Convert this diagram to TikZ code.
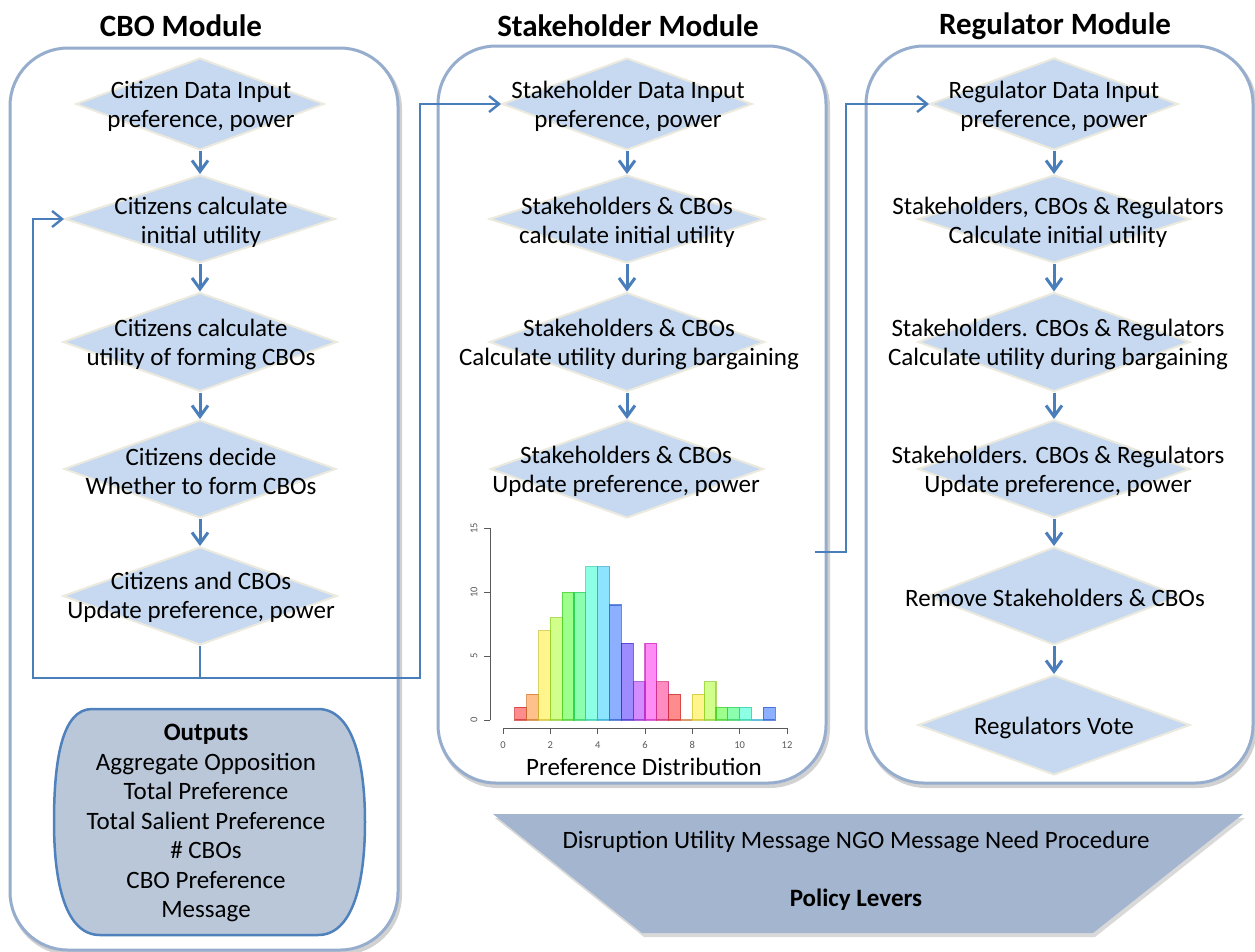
\documentclass[tikz,border=0pt]{standalone}
\usepackage{fontspec}
\setmainfont{Carlito}
\usetikzlibrary{shapes.geometric,arrows.meta}
\definecolor{diafill}{RGB}{198,217,240}
\definecolor{diaborder}{RGB}{236,234,222}
\definecolor{arrowblue}{RGB}{74,126,187}
\definecolor{framecol}{RGB}{150,173,205}
\definecolor{outfill}{RGB}{185,199,217}
\definecolor{outborder}{RGB}{79,129,189}
\definecolor{polfill}{RGB}{163,181,207}
\definecolor{axisgray}{RGB}{90,90,90}
\begin{document}
\begin{tikzpicture}[x=1pt,y=-1pt,
  dia/.style={diamond, draw=diaborder, line width=2pt, fill=diafill, inner sep=0pt},
  dtext/.style={font=\fontsize{25}{29}\selectfont, align=center, inner sep=0pt},
  titletext/.style={font=\bfseries\fontsize{31}{36}\selectfont, inner sep=0pt},
  frame/.style={draw=framecol, line width=3pt, rounded corners=58pt, fill=white},
  frameshadow/.style={draw=black!18, line width=4pt, rounded corners=58pt},
  flowarrow/.style={draw=arrowblue, line width=3pt, -{Straight Barb[length=11pt,width=16pt]}},
  conn/.style={draw=arrowblue, line width=2.4pt},
  connarrow/.style={draw=arrowblue, line width=2.4pt, -{Straight Barb[length=10pt,width=16pt]}},
  ticklab/.style={font=\fontsize{10.5}{10.5}\selectfont, text=axisgray, inner sep=0pt}
]
\useasboundingbox (0,0) rectangle (1255,951);

% ---------- titles ----------
\node[titletext] (tcbo) at (181,26) {CBO Module};
\node[titletext] (tstake) at (628,26) {Stakeholder Module};
\node[titletext] (treg) at (1055,26) {Regulator Module};

% ---------- module frames ----------
\draw[frameshadow] (12,51) rectangle (400,953);
\draw[frame] (10,48) rectangle (398,950);
\draw[frameshadow] (440,49) rectangle (828,786);
\draw[frame] (438,46) rectangle (826,783);
\draw[frameshadow] (868,49) rectangle (1255,786);
\draw[frame] (866,46) rectangle (1253,783);

% ---------- CBO module ----------
\node[dia, minimum width=248, minimum height=92] (c1) at (200,104) {};
\node[dtext] (c1t) at (201,106) {Citizen Data Input\\preference, power};
\node[dia, minimum width=270, minimum height=88] (c2) at (200,219) {};
\node[dtext] (c2t) at (201,222) {Citizens calculate\\initial utility};
\node[dia, minimum width=274, minimum height=99] (c3) at (200,342) {};
\node[dtext] (c3t) at (201,344) {Citizens calculate\\utility of forming CBOs};
\node[dia, minimum width=272, minimum height=98] (c4) at (200,469) {};
\node[dtext] (c4t) at (201,471) {Citizens decide\\Whether to form CBOs};
\node[dia, minimum width=274, minimum height=98] (c5) at (200,596) {};
\node[dtext] (c5t) at (201,597) {Citizens and CBOs\\Update preference, power};

\draw[flowarrow] (c1.south) -- (c2.north);
\draw[flowarrow] (c2.south) -- (c3.north);
\draw[flowarrow] (c3.south) -- (c4.north);
\draw[flowarrow] (c4.south) -- (c5.north);

% ---------- outputs ----------
\draw[fill=outfill, draw=outborder, line width=2.5pt]
  (92,709) -- (318,709) .. controls (352,709) and (365,760) .. (365,822)
  .. controls (365,885) and (352,935) .. (318,935) -- (100,935)
  .. controls (66,935) and (54,885) .. (54,822)
  .. controls (54,760) and (62,709) .. (92,709) -- cycle;
\node[dtext, font=\fontsize{25}{29.5}\selectfont] (outputs) at (206,823)
  {\textbf{Outputs}\\Aggregate Opposition\\Total Preference\\Total Salient Preference\\\# CBOs\\CBO Preference\\Message};

% ---------- stakeholder module ----------
\node[dia, minimum width=250, minimum height=92] (s1) at (627,104) {};
\node[dtext] (s1t) at (628,106) {Stakeholder Data Input\\preference, power};
\node[dia, minimum width=275, minimum height=88] (s2) at (627,219) {};
\node[dtext] (s2t) at (627,222) {Stakeholders \& CBOs\\calculate initial utility};
\node[dia, minimum width=275, minimum height=99] (s3) at (627,342) {};
\node[dtext] (s3t) at (629,344) {Stakeholders \& CBOs\\Calculate utility during bargaining};
\node[dia, minimum width=273, minimum height=98] (s4) at (627,469) {};
\node[dtext] (s4t) at (626,471) {Stakeholders \& CBOs\\Update preference, power};

\draw[flowarrow] (s1.south) -- (s2.north);
\draw[flowarrow] (s2.south) -- (s3.north);
\draw[flowarrow] (s3.south) -- (s4.north);

% ---------- histogram ----------
\fill[white] (455,520) rectangle (815,757);
\foreach \i/\c in {0/1,1/2,2/7,3/8,4/10,5/10,6/12,7/12,8/9,9/6,10/3,11/6,12/3,13/2,14/0,15/2,16/3,17/1,18/1,19/1,20/0,21/1} {
  \pgfmathsetmacro\hh{mod(\i,13)/13}
  \pgfmathsetmacro\xl{503+(0.5+0.5*\i)*23.67}
  \pgfmathsetmacro\xr{\xl+11.83}
  \pgfmathsetmacro\yt{720-\c*12.78}
  \definecolor{barc}{hsb}{\hh,1,1}
  \fill[barc, fill opacity=0.45] (\xl,720) rectangle (\xr,\yt);
  \draw[barc!80!black, line width=1.2pt, draw opacity=0.7] (\xl,720) rectangle (\xr,\yt);
}
\draw[axisgray, line width=1pt] (490,720) -- (490,528);
\foreach \v in {0,5,10,15} {
  \draw[axisgray, line width=1pt] (490,720-\v*12.78) -- (484,720-\v*12.78);
  \node[ticklab, rotate=90] at (474,720-\v*12.78) {\v};
}
\draw[axisgray, line width=1pt] (503,728) -- (787,728);
\foreach \v in {0,2,4,6,8,10,12} {
  \draw[axisgray, line width=1pt] (503+\v*23.67,728) -- (503+\v*23.67,734);
  \node[ticklab] at (503+\v*23.67,745) {\v};
}
\node[dtext] (histlabel) at (644,767) {Preference Distribution};
\coordinate (histR) at (815,552);

% ---------- regulator module ----------
\node[dia, minimum width=248, minimum height=92] (r1) at (1054,104) {};
\node[dtext] (r1t) at (1054,106) {Regulator Data Input\\preference, power};
\node[dia, minimum width=272, minimum height=88] (r2) at (1054,219) {};
\node[dtext] (r2t) at (1058,222) {Stakeholders, CBOs \& Regulators\\Calculate initial utility};
\node[dia, minimum width=272, minimum height=99] (r3) at (1054,342) {};
\node[dtext] (r3t) at (1058,344) {Stakeholders. CBOs \& Regulators\\Calculate utility during bargaining};
\node[dia, minimum width=272, minimum height=98] (r4) at (1054,469) {};
\node[dtext] (r4t) at (1058,471) {Stakeholders. CBOs \& Regulators\\Update preference, power};
\node[dia, minimum width=252, minimum height=98] (r5) at (1054,596) {};
\node[dtext] (r5t) at (1055,598) {Remove Stakeholders \& CBOs};
\node[dia, minimum width=272, minimum height=100] (r6) at (1054,725) {};
\node[dtext] (r6t) at (1054,728) {Regulators Vote};

\draw[flowarrow] (r1.south) -- (r2.north);
\draw[flowarrow] (r2.south) -- (r3.north);
\draw[flowarrow] (r3.south) -- (r4.north);
\draw[flowarrow] (r4.south) -- (r5.north);
\draw[flowarrow] (r5.south) -- (r6.north);

% ---------- loop connectors ----------
\coordinate (split) at (200,678);
\coordinate (lbend) at (33,678);
\coordinate (rbend) at (420,678);
\coordinate (hbend) at (846,552);
\draw[conn] (c5.south) -- (split);
\draw[connarrow] (split) -- (lbend) |- (c2.west);
\draw[connarrow] (split) -- (rbend) |- (s1.west);
\draw[connarrow] (histR) -- (hbend) |- (r1.west);

% ---------- policy levers ----------
\fill[black!15] (495,818) -- (1245,818) -- (1095,937) -- (644,937) -- cycle;
\fill[polfill] (493,814) -- (1243,814) -- (1093,933) -- (642,933) -- cycle;
\node[dtext] (policy) at (856,871) {Disruption Utility Message NGO Message Need Procedure\\[29pt]\textbf{Policy Levers}};
\end{tikzpicture}
\end{document}
